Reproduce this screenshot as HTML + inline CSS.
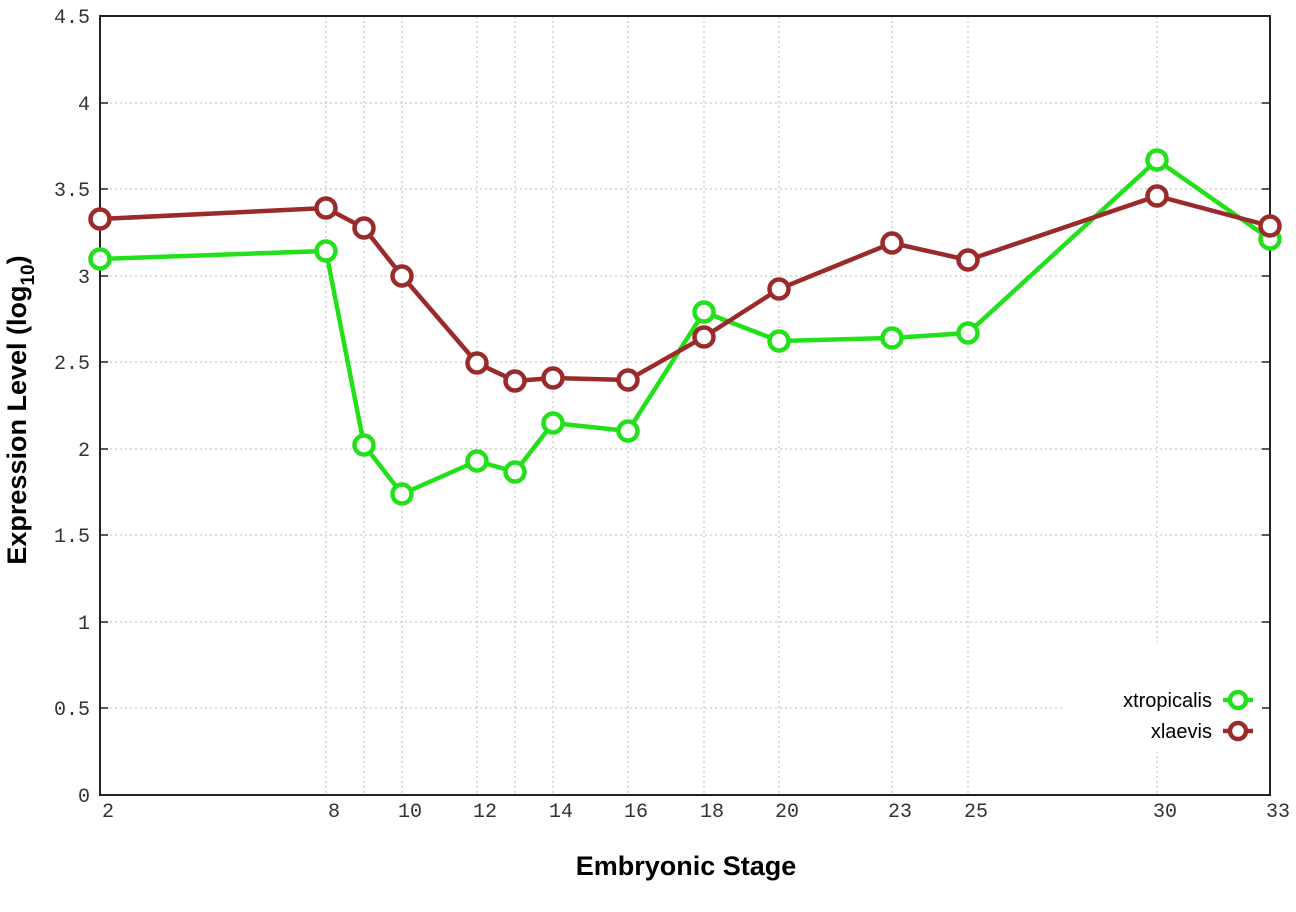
<!DOCTYPE html><html><head><style>body{margin:0;background:#fff}</style></head><body>
<svg width="1296" height="907" xmlns="http://www.w3.org/2000/svg">
<rect width="1296" height="907" fill="#fff"/>
<g stroke="#bbb" stroke-width="1" stroke-dasharray="2,3">
<line x1="100" x2="1270" y1="708" y2="708"/><line x1="100" x2="1270" y1="622" y2="622"/><line x1="100" x2="1270" y1="535" y2="535"/><line x1="100" x2="1270" y1="449" y2="449"/><line x1="100" x2="1270" y1="362" y2="362"/><line x1="100" x2="1270" y1="276" y2="276"/><line x1="100" x2="1270" y1="189" y2="189"/><line x1="100" x2="1270" y1="103" y2="103"/>
<line y1="16" y2="795" x1="326" x2="326"/><line y1="16" y2="795" x1="364" x2="364"/><line y1="16" y2="795" x1="402" x2="402"/><line y1="16" y2="795" x1="477" x2="477"/><line y1="16" y2="795" x1="515" x2="515"/><line y1="16" y2="795" x1="553" x2="553"/><line y1="16" y2="795" x1="628" x2="628"/><line y1="16" y2="795" x1="704" x2="704"/><line y1="16" y2="795" x1="779" x2="779"/><line y1="16" y2="795" x1="892" x2="892"/><line y1="16" y2="795" x1="968" x2="968"/><line y1="16" y2="795" x1="1157" x2="1157"/>
</g>
<rect x="1062" y="642" width="206" height="110" fill="#fff"/>
<rect x="100" y="16" width="1170" height="779" fill="none" stroke="#222" stroke-width="2"/>
<g stroke="#222" stroke-width="1.5">
<line x1="100" x2="108" y1="708" y2="708"/><line x1="100" x2="108" y1="622" y2="622"/><line x1="100" x2="108" y1="535" y2="535"/><line x1="100" x2="108" y1="449" y2="449"/><line x1="100" x2="108" y1="362" y2="362"/><line x1="100" x2="108" y1="276" y2="276"/><line x1="100" x2="108" y1="189" y2="189"/><line x1="100" x2="108" y1="103" y2="103"/>
<line x1="1262" x2="1270" y1="708" y2="708"/><line x1="1262" x2="1270" y1="622" y2="622"/><line x1="1262" x2="1270" y1="535" y2="535"/><line x1="1262" x2="1270" y1="449" y2="449"/><line x1="1262" x2="1270" y1="362" y2="362"/><line x1="1262" x2="1270" y1="276" y2="276"/><line x1="1262" x2="1270" y1="189" y2="189"/><line x1="1262" x2="1270" y1="103" y2="103"/>
</g>
<g font-family="Liberation Mono, monospace" font-size="20" fill="#333" text-anchor="end">
<text x="90" y="802">0</text><text x="90" y="715">0.5</text><text x="90" y="629">1</text><text x="90" y="542">1.5</text><text x="90" y="456">2</text><text x="90" y="369">2.5</text><text x="90" y="283">3</text><text x="90" y="196">3.5</text><text x="90" y="110">4</text><text x="90" y="23">4.5</text>
</g>
<g font-family="Liberation Mono, monospace" font-size="20" fill="#333" text-anchor="middle">
<text x="108" y="817">2</text><text x="334" y="817">8</text><text x="410" y="817">10</text><text x="485" y="817">12</text><text x="561" y="817">14</text><text x="636" y="817">16</text><text x="712" y="817">18</text><text x="787" y="817">20</text><text x="900" y="817">23</text><text x="976" y="817">25</text><text x="1165" y="817">30</text><text x="1278" y="817">33</text>
</g>
<text x="686" y="875" font-family="Liberation Sans, sans-serif" font-weight="bold" font-size="27" text-anchor="middle">Embryonic Stage</text>
<text transform="translate(26,410) rotate(-90)" font-family="Liberation Sans, sans-serif" font-weight="bold" font-size="27" text-anchor="middle">Expression Level (log<tspan font-size="19" dy="8">10</tspan><tspan dy="-8">)</tspan></text>
<g fill="none" stroke-width="4.5" stroke="#22e01a">
<polyline points="100,259 326,251 364,445 402,494 477,461 515,472 553,423 628,431 704,312 779,341 892,338 968,333 1157,160 1270,239"/>
<g fill="#fff"><circle cx="100" cy="259" r="9.5"/><circle cx="326" cy="251" r="9.5"/><circle cx="364" cy="445" r="9.5"/><circle cx="402" cy="494" r="9.5"/><circle cx="477" cy="461" r="9.5"/><circle cx="515" cy="472" r="9.5"/><circle cx="553" cy="423" r="9.5"/><circle cx="628" cy="431" r="9.5"/><circle cx="704" cy="312" r="9.5"/><circle cx="779" cy="341" r="9.5"/><circle cx="892" cy="338" r="9.5"/><circle cx="968" cy="333" r="9.5"/><circle cx="1157" cy="160" r="9.5"/><circle cx="1270" cy="239" r="9.5"/></g>
</g>
<g fill="none" stroke-width="4.5" stroke="#9b2a2a">
<polyline points="100,219 326,208 364,228 402,276 477,363 515,381 553,378 628,380 704,337 779,289 892,243 968,260 1157,196 1270,226"/>
<g fill="#fff"><circle cx="100" cy="219" r="9.5"/><circle cx="326" cy="208" r="9.5"/><circle cx="364" cy="228" r="9.5"/><circle cx="402" cy="276" r="9.5"/><circle cx="477" cy="363" r="9.5"/><circle cx="515" cy="381" r="9.5"/><circle cx="553" cy="378" r="9.5"/><circle cx="628" cy="380" r="9.5"/><circle cx="704" cy="337" r="9.5"/><circle cx="779" cy="289" r="9.5"/><circle cx="892" cy="243" r="9.5"/><circle cx="968" cy="260" r="9.5"/><circle cx="1157" cy="196" r="9.5"/><circle cx="1270" cy="226" r="9.5"/></g>
</g>
<g font-family="Liberation Sans, sans-serif" font-size="20" fill="#000" text-anchor="end">
<text x="1212" y="707">xtropicalis</text><text x="1212" y="738">xlaevis</text>
</g>
<g stroke-width="4.5" fill="#fff">
<line x1="1223" x2="1253" y1="700" y2="700" stroke="#22e01a"/><circle cx="1238" cy="700" r="8" stroke="#22e01a"/>
<line x1="1223" x2="1253" y1="731" y2="731" stroke="#9b2a2a"/><circle cx="1238" cy="731" r="8" stroke="#9b2a2a"/>
</g>
</svg></body></html>
